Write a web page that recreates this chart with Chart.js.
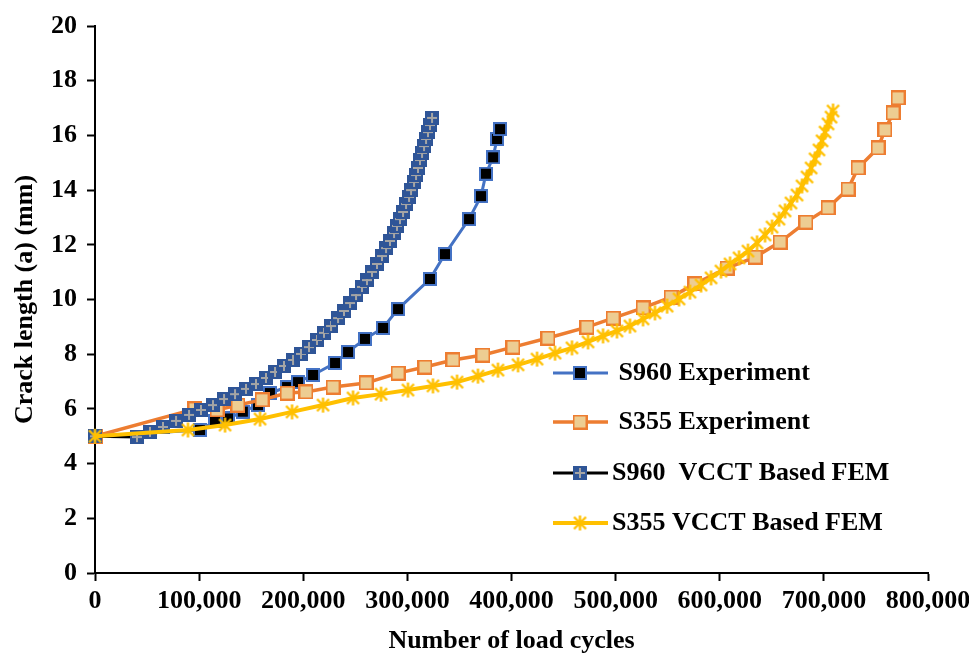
<!DOCTYPE html>
<html>
<head>
<meta charset="utf-8">
<title>Crack growth</title>
<script src="https://cdn.jsdelivr.net/npm/chart.js@4.4.0/dist/chart.umd.min.js"></script>
<style>
  html, body { margin: 0; padding: 0; background: #fff; }
  #wrap { width: 969px; height: 654px; }
</style>
</head>
<body>
<div id="wrap"><canvas id="crackChart" width="969" height="654"></canvas></div>
<script>
/* =========================
   DATA
========================= */
const seriesNames = [' S960 Experiment', ' S355 Experiment', 'S960  VCCT Based FEM', 'S355 VCCT Based FEM'];

const s960ExpCycles = [0, 100800, 115200, 127700, 142000, 156500, 168000, 184400, 195000, 209400, 230500, 243000, 259300, 276600, 291000, 321700, 336100, 359200, 370700, 375500, 382300, 386100, 389000];
const s960ExpCrack  = [5.0, 5.23, 5.55, 5.65, 5.9, 6.14, 6.58, 6.80, 6.98, 7.24, 7.68, 8.08, 8.56, 8.96, 9.65, 10.75, 11.66, 12.94, 13.78, 14.6, 15.2, 15.87, 16.23];

const s355ExpCycles = [0, 96000, 117200, 137300, 160400, 184400, 202600, 228600, 260300, 291000, 316900, 343800, 372600, 401400, 435000, 472500, 497500, 526300, 553200, 576200, 607000, 633900, 657900, 682800, 704000, 723200, 732800, 752000, 758700, 766400, 771200];
const s355ExpCrack  = [5.0, 6.0, 5.96, 6.14, 6.33, 6.58, 6.62, 6.80, 6.95, 7.31, 7.53, 7.79, 7.97, 8.26, 8.59, 8.99, 9.32, 9.69, 10.09, 10.57, 11.15, 11.55, 12.10, 12.83, 13.35, 14.04, 14.81, 15.54, 16.20, 16.82, 17.37];

const s960FemCycles = [0, 40300, 52800, 65300, 77800, 90300, 101800, 113300, 123900, 134500, 145000, 154600, 164200, 172900, 181500, 190200, 197800, 205500, 213200, 219900, 226700, 233400, 239100, 244900, 250700, 256400, 261200, 266000, 270800, 275600, 279500, 283300, 287200, 290000, 292900, 295800, 298700, 301600, 303500, 306400, 308300, 310200, 312100, 314100, 316000, 317900, 319800, 321700, 323700];
const s960FemCrack  = [5.0, 4.97, 5.16, 5.34, 5.56, 5.78, 5.96, 6.14, 6.36, 6.54, 6.73, 6.91, 7.13, 7.35, 7.57, 7.79, 8.01, 8.26, 8.52, 8.78, 9.03, 9.32, 9.58, 9.87, 10.16, 10.46, 10.71, 11.01, 11.30, 11.59, 11.88, 12.14, 12.43, 12.69, 12.94, 13.20, 13.49, 13.75, 14.00, 14.30, 14.55, 14.81, 15.10, 15.36, 15.61, 15.87, 16.12, 16.38, 16.64];

const s355FemCycles = [0, 89300, 124900, 158500, 189200, 219000, 247800, 274700, 300600, 324600, 347700, 367800, 387000, 406300, 424500, 441800, 458100, 473500, 487900, 501300, 513800, 526300, 537800, 549400, 560900, 571400, 582000, 591600, 601200, 609900, 618500, 627100, 635800, 643500, 650200, 656900, 662700, 668400, 674200, 679000, 683800, 687700, 691500, 695300, 698200, 701100, 704000, 706900, 708800];
const s355FemCrack  = [5.0, 5.23, 5.41, 5.63, 5.89, 6.14, 6.40, 6.54, 6.69, 6.84, 6.98, 7.20, 7.42, 7.61, 7.82, 8.04, 8.23, 8.45, 8.67, 8.85, 9.03, 9.29, 9.51, 9.76, 10.02, 10.27, 10.53, 10.79, 11.04, 11.30, 11.52, 11.77, 12.07, 12.36, 12.65, 12.94, 13.24, 13.53, 13.82, 14.15, 14.48, 14.81, 15.14, 15.47, 15.80, 16.12, 16.42, 16.67, 16.89];

const xTicks = [0, 100000, 200000, 300000, 400000, 500000, 600000, 700000, 800000];
const yTicks = [0, 2, 4, 6, 8, 10, 12, 14, 16, 18, 20];

/* =========================
   MARKERS
========================= */
const FONT_FAMILY = '"Liberation Serif", "Times New Roman", serif';

function squareMarker(size, edgeW, fill, edge) {
    const c = document.createElement('canvas');
    c.width = size; c.height = size;
    const g = c.getContext('2d');
    g.fillStyle = edge;
    g.fillRect(0, 0, size, size);
    g.fillStyle = fill;
    g.fillRect(edgeW, edgeW, size - 2 * edgeW, size - 2 * edgeW);
    return c;
}

function crossSquareMarker(size) {
    const c = document.createElement('canvas');
    c.width = size; c.height = size;
    const g = c.getContext('2d');
    g.fillStyle = '#2F5597';
    g.fillRect(0, 0, size, size);
    g.fillStyle = '#A5A5A5';
    const m = size / 2;
    g.fillRect(m - 1, 2, 2, size - 4);
    g.fillRect(2, m - 1, size - 4, 2);
    return c;
}

function starMarker(size, color) {
    const c = document.createElement('canvas');
    c.width = size; c.height = size;
    const g = c.getContext('2d');
    const m = size / 2, r = size / 2 - 1;
    g.strokeStyle = color;
    g.lineWidth = 2.4;
    g.beginPath();
    g.moveTo(m, m - r); g.lineTo(m, m + r);
    g.moveTo(m - r * 0.8, m - r * 0.8); g.lineTo(m + r * 0.8, m + r * 0.8);
    g.moveTo(m + r * 0.8, m - r * 0.8); g.lineTo(m - r * 0.8, m + r * 0.8);
    g.stroke();
    return c;
}

const mkS960Exp = squareMarker(14, 2, '#000000', '#4472C4');
const mkS355Exp = squareMarker(15, 2, '#EDCD92', '#ED7D31');
const mkS960Fem = crossSquareMarker(14);
const mkS355Fem = starMarker(17, '#FFC000');

function toPoints(xs, ys) {
    return xs.map((x, i) => ({ x: x, y: ys[i] }));
}

/* =========================
   LEGEND INSIDE PLOT
========================= */
const insideLegend = {
    id: 'insideLegend',
    afterDraw(chart) {
        const ctx = chart.ctx;
        const area = chart.chartArea;
        const x0 = area.left + 458;
        const rows = [373, 422, 473, 523];
        ctx.save();
        chart.data.datasets.forEach((ds, i) => {
            const y = rows[i];
            ctx.strokeStyle = ds.borderColor;
            ctx.lineWidth = ds.borderWidth;
            ctx.beginPath();
            ctx.moveTo(x0, y);
            ctx.lineTo(x0 + 55, y);
            ctx.stroke();
            const img = ds.pointStyle;
            ctx.drawImage(img, x0 + 27 - img.width / 2, y - img.height / 2);
            ctx.fillStyle = '#000';
            ctx.font = 'bold 26px ' + FONT_FAMILY;
            ctx.textBaseline = 'middle';
            ctx.textAlign = 'left';
            ctx.fillText(ds.label, x0 + 59, y);
        });
        ctx.restore();
    }
};

/* =========================
   CHART
========================= */
const tickFont = { family: FONT_FAMILY, size: 26, weight: 'bold' };
const titleFont = { family: FONT_FAMILY, size: 26, weight: 'bold', lineHeight: 1 };

new Chart(document.getElementById('crackChart'), {
    type: 'line',
    data: {
        datasets: [
            {
                label: seriesNames[0],
                data: toPoints(s960ExpCycles, s960ExpCrack),
                borderColor: '#4472C4',
                borderWidth: 3,
                pointStyle: mkS960Exp,
                pointRadius: 6,
                order: 4
            },
            {
                label: seriesNames[1],
                data: toPoints(s355ExpCycles, s355ExpCrack),
                borderColor: '#ED7D31',
                borderWidth: 3.5,
                pointStyle: mkS355Exp,
                pointRadius: 6,
                order: 3
            },
            {
                label: seriesNames[2],
                data: toPoints(s960FemCycles, s960FemCrack),
                borderColor: '#000000',
                borderWidth: 3,
                pointStyle: mkS960Fem,
                pointRadius: 6,
                order: 2
            },
            {
                label: seriesNames[3],
                data: toPoints(s355FemCycles, s355FemCrack),
                borderColor: '#FFC000',
                borderWidth: 4,
                pointStyle: mkS355Fem,
                pointRadius: 6,
                order: 1
            }
        ]
    },
    options: {
        responsive: false,
        animation: false,
        devicePixelRatio: 1,
        layout: { padding: { left: 0, right: 41, top: 26, bottom: 0 } },
        elements: { line: { tension: 0, fill: false } },
        datasets: { line: { clip: false } },
        plugins: {
            legend: { display: false },
            tooltip: { enabled: false }
        },
        scales: {
            x: {
                type: 'linear',
                min: 0,
                max: 800000,
                afterBuildTicks: s => { s.ticks = xTicks.map(v => ({ value: v })); },
                afterFit: s => { s.height = 81; s.paddingLeft = 0; s.paddingRight = 0; },
                grid: { drawOnChartArea: false, drawTicks: true, tickLength: 8, tickColor: '#000', tickWidth: 2 },
                border: { display: true, color: '#000', width: 2 },
                ticks: {
                    color: '#000',
                    font: tickFont,
                    padding: 5,
                    maxRotation: 0,
                    autoSkip: false,
                    callback: v => v.toLocaleString('en-US')
                },
                title: {
                    display: true,
                    text: 'Number of load cycles',
                    color: '#000',
                    font: titleFont,
                    padding: { top: 0, bottom: 0 }
                }
            },
            y: {
                type: 'linear',
                min: 0,
                max: 20,
                afterBuildTicks: s => { s.ticks = yTicks.map(v => ({ value: v })); },
                afterFit: s => { s.width = 95; s.paddingTop = 0; s.paddingBottom = 0; },
                grid: { drawOnChartArea: false, drawTicks: true, tickLength: 8, tickColor: '#000', tickWidth: 2 },
                border: { display: true, color: '#000', width: 2 },
                ticks: {
                    color: '#000',
                    font: tickFont,
                    padding: 10,
                    autoSkip: false
                },
                title: {
                    display: true,
                    text: 'Crack length (a) (mm)',
                    color: '#000',
                    font: titleFont,
                    padding: { top: 12, bottom: 0 }
                }
            }
        }
    },
    plugins: [insideLegend]
});
</script>
</body>
</html>
